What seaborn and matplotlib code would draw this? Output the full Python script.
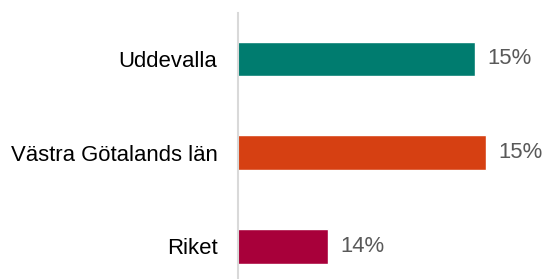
import matplotlib
matplotlib.use("Agg")
import matplotlib.pyplot as plt
import seaborn as sns
import pandas as pd

categories = ["Uddevalla", "Västra Götalands län", "Riket"]
values = [15.05, 15.12, 14.09]
colors = ["#007C6F", "#D64012", "#A8003A"]

sns.set_style("white")
plt.rcParams["font.family"] = ["Liberation Sans", "DejaVu Sans"]

df = pd.DataFrame({"cat": categories, "val": values})

fig = plt.figure(figsize=(5.45, 2.79), dpi=100)
ax = fig.add_axes([237.6 / 545, 0.0, (545 - 237.6) / 545, (279 - 13) / 279])

sns.barplot(data=df, x="val", y="cat", hue="cat", palette=colors, legend=False,
            orient="h", width=0.37, ax=ax, saturation=1)

ax.set_xlim(13.5, 13.5 + 307.4 / 153.3)
ax.set_ylim(2.35, -0.49)
ax.set_xlabel("")
ax.set_ylabel("")
ax.set_xticks([])
for s in ["top", "right", "bottom"]:
    ax.spines[s].set_visible(False)
ax.spines["left"].set_color("#D9D9D9")
ax.spines["left"].set_linewidth(1.5)
ax.tick_params(axis="y", length=0, pad=14.5, labelsize=15.9, labelcolor="#000000")

for cont in ax.containers:
    ax.bar_label(cont, labels=[f"{v:.0f}%" for v in cont.datavalues],
                 padding=9.0, fontsize=15.9, color="#595959")

fig.savefig("out.png", dpi=100)
